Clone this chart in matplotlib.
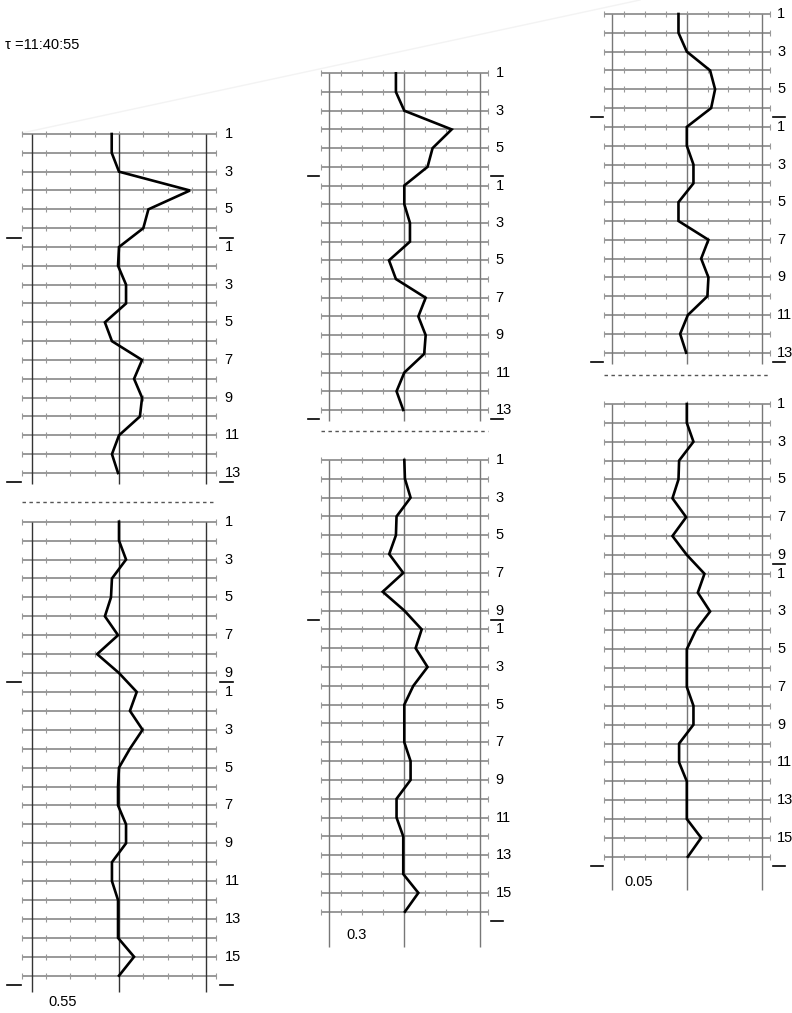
import numpy as np
import matplotlib.pyplot as plt

plt.rcParams['font.family'] = ['Liberation Sans Narrow', 'Liberation Sans', 'DejaVu Sans']

W, H = 792, 1013

# profile values, in grid-tick units from the centre line
left_top_s1 = [-0.3, -0.3, 0, 2.92, 1.21, 1.0]
left_top_s2 = [0, -0.04, 0.29, 0.29, -0.58, -0.29, 0.95, 0.62, 0.95, 0.86, 0, -0.29, -0.04]
left_bot_s1 = [0, 0, 0.29, -0.29, -0.33, -0.58, -0.04, -0.9, 0]
left_bot_s2 = [0.73, 0.45, 0.97, 0.45, 0, -0.04, -0.04, 0.29, 0.29, -0.29, -0.29, -0.04, -0.04, -0.04, 0.62, 0]

mid_top_s1 = [-0.4, -0.4, 0, 2.26, 1.35, 1.11]
mid_top_s2 = [0, 0, 0.27, 0.27, -0.73, -0.4, 1.02, 0.67, 1.02, 0.95, 0, -0.37, -0.05]
mid_bot_s1 = [0, 0.03, 0.30, -0.37, -0.40, -0.72, -0.05, -1.03, 0]
mid_bot_s2 = [0.83, 0.54, 1.11, 0.43, 0, 0, 0, 0.30, 0.30, -0.37, -0.37, -0.05, -0.05, -0.05, 0.67, 0.03]

right_top_s1 = [-0.4, -0.4, 0, 1.12, 1.36, 1.17]
right_top_s2 = [0, 0, 0.32, 0.32, -0.4, -0.4, 1.04, 0.69, 1.04, 0.99, 0.05, -0.32, -0.03]
right_bot_s1 = [0, 0, 0.32, -0.37, -0.4, -0.69, -0.03, -0.69, 0]
right_bot_s2 = [0.85, 0.53, 1.12, 0.43, 0, 0, 0, 0.32, 0.32, -0.37, -0.37, 0, 0, 0, 0.69, 0.05]

scale_labels = ['0.55', '0.3', '0.05']
time_label = '\u03c4 =11:40:55'

fig = plt.figure(figsize=(W / 100, H / 100), dpi=100)
bg = fig.add_axes([0, 0, 1, 1])
bg.set_xlim(0, W)
bg.set_ylim(H, 0)
bg.axis('off')
bg.plot([22, 640], [133, 0], color='#f3f3f3', lw=1)
bg.text(5, 45, time_label, fontsize=10.5, va='center', ha='left')


def panel(cx, step, y_first, y_last, sections, vcol, ext_px):
    n = sum(sections)
    dy = (y_last - y_first) / (n - 1)
    ax = fig.add_axes([(cx - 4 * step) / W, 1 - y_last / H,
                       8 * step / W, (y_last - y_first) / H])
    ax.set_xlim(-4, 4)
    ax.set_ylim(n - 1, 0)
    ax.axis('off')
    rows = np.arange(n)
    ax.hlines(rows, -4, 4, color='#999999', lw=1.4, clip_on=False)
    tx, ty = np.meshgrid(np.arange(-4, 5), rows)
    ax.plot(tx.ravel(), ty.ravel(), ls='none', marker='|', ms=4.5, mew=0.8,
            color='#999999', clip_on=False)
    ax.vlines([-3.6, 0, 3.6], 0, n - 1 + ext_px / dy, color=vcol, lw=1, clip_on=False)
    return ax, rows, dy


def finish(ax, rows, dy, sections, values, div_left, bot_left, sep_px, lbl, lbl_px):
    n = len(rows)
    ax.plot(values, rows, color='black', lw=1.9, clip_on=False, solid_joinstyle='miter')
    start = 0
    for k in sections:
        for i in range(0, k, 2):
            ax.text(4.35, start + i, str(i + 1), ha='left', va='center',
                    fontsize=10.5, clip_on=False)
        start += k
    yd = sections[0] - 0.5
    yb = n - 1 + 0.47
    if div_left:
        ax.plot([-4.6, -4.05], [yd, yd], color='black', lw=1.2, clip_on=False)
    ax.plot([4.15, 4.7], [yd, yd], color='black', lw=1.2, clip_on=False)
    if bot_left:
        ax.plot([-4.6, -4.05], [yb, yb], color='black', lw=1.2, clip_on=False)
    ax.plot([4.15, 4.7], [yb, yb], color='black', lw=1.2, clip_on=False)
    if sep_px is not None:
        ax.plot([-4, 4], [n - 1 + sep_px / dy] * 2, color='#555555', lw=1,
                ls=(0, (2.5, 2.5)), clip_on=False)
    if lbl is not None:
        ax.text(-2.3, n - 1 + lbl_px / dy, lbl, ha='center', va='center',
                fontsize=10.5, clip_on=False)


columns = [
    dict(cx=119, step=24.3, top=(134, 473), bot=(521.7, 975.7), vcol='#333333',
         ext_b=16, lbl_px=26, div_left_b=True, sep=29,
         data=(left_top_s1, left_top_s2, left_bot_s1, left_bot_s2)),
    dict(cx=404.3, step=20.95, top=(73.3, 410), bot=(460, 911.7), vcol='#777777',
         ext_b=35, lbl_px=23, div_left_b=True, bot_left_b=False, sep=21,
         data=(mid_top_s1, mid_top_s2, mid_bot_s1, mid_bot_s2)),
    dict(cx=686.8, step=20.8, top=(14, 352.7), bot=(404, 856.7), vcol='#777777',
         ext_b=33, lbl_px=25, div_left_b=False, sep=22,
         data=(right_top_s1, right_top_s2, right_bot_s1, right_bot_s2)),
]

for col, lbl in zip(columns, scale_labels):
    t1, t2, b1, b2 = col['data']
    sec_top = [len(t1), len(t2)]
    sec_bot = [len(b1), len(b2)]
    ax, rows, dy = panel(col['cx'], col['step'], col['top'][0], col['top'][1],
                         sec_top, col['vcol'], 11)
    finish(ax, rows, dy, sec_top, t1 + t2, True, True, col['sep'], None, 0)
    ax, rows, dy = panel(col['cx'], col['step'], col['bot'][0], col['bot'][1],
                         sec_bot, col['vcol'], col['ext_b'])
    finish(ax, rows, dy, sec_bot, b1 + b2, col['div_left_b'],
           col.get('bot_left_b', True), None, lbl, col['lbl_px'])

fig.savefig('out.png', dpi=100)
